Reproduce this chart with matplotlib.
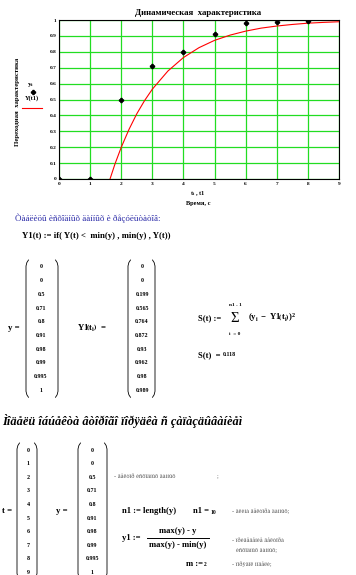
import matplotlib
matplotlib.use("Agg")
import matplotlib.pyplot as plt
from matplotlib.lines import Line2D

plt.rcParams['mathtext.fontset'] = 'custom'
plt.rcParams['mathtext.rm'] = 'Liberation Serif:bold'
plt.rcParams['mathtext.it'] = 'Liberation Serif:bold'
plt.rcParams['mathtext.bf'] = 'Liberation Serif:bold'

# ---------------- data ----------------
t = [0, 1, 2, 3, 4, 5, 6, 7, 8, 9]
y = [0, 0, 0.5, 0.71, 0.8, 0.91, 0.98, 0.99, 0.995, 1]
Y1_ti = [0, 0, 0.199, 0.565, 0.764, 0.872, 0.93, 0.962, 0.98, 0.989]
curve_t = [1.64, 1.8, 2.0, 2.25, 2.5, 2.75, 3.0, 3.5, 4.0, 4.5, 5.0, 5.5,
           6.0, 6.5, 7.0, 7.5, 8.0, 8.5, 9.0]
curve_y = [0.0, 0.095, 0.199, 0.312, 0.41, 0.493, 0.565, 0.679, 0.764, 0.826,
           0.872, 0.905, 0.93, 0.949, 0.962, 0.972, 0.98, 0.985, 0.989]
x_ticks = [0, 1, 2, 3, 4, 5, 6, 7, 8, 9]
y_ticks = [0, 0.1, 0.2, 0.3, 0.4, 0.5, 0.6, 0.7, 0.8, 0.9, 1]
y_tick_labels = ["0", "0.1", "0.2", "0.3", "0.4", "0.5", "0.6", "0.7", "0.8", "0.9", "1"]
y_tab = ["0", "0", "0.5", "0.71", "0.8", "0.91", "0.98", "0.99", "0.995", "1"]
Y1_tab = ["0", "0", "0.199", "0.565", "0.764", "0.872", "0.93", "0.962", "0.98", "0.989"]
t_tab = ["0", "1", "2", "3", "4", "5", "6", "7", "8", "9"]

W, H = 356, 575
fig = plt.figure(figsize=(W / 100, H / 100), dpi=100)
fig.patch.set_facecolor('white')

def P(x, yy):
    return x / W, 1 - yy / H

SERIF = 'Liberation Serif'

def T(x, yy, s, size, weight='bold', ha='left', va='center', color='black', **kw):
    fx, fy = P(x, yy)
    fig.text(fx, fy, s, fontsize=size, fontweight=weight, ha=ha, va=va,
             color=color, family=SERIF, **kw)

# ---------------- chart ----------------
L, R, TOP, BOT = 59, 339, 20, 179
ax = fig.add_axes([L / W, 1 - BOT / H, (R - L) / W, (BOT - TOP) / H])
ax.set_xlim(0, 9)
ax.set_ylim(0, 1)
ax.set_xticks(x_ticks)
ax.set_yticks(y_ticks)
ax.set_xticklabels([str(v) for v in x_ticks])
ax.set_yticklabels(y_tick_labels)
ax.grid(True, color='#22dd22', lw=0.9)
ax.set_axisbelow(True)
ax.tick_params(length=0, labelsize=3.9, pad=2)
for lab in ax.get_xticklabels() + ax.get_yticklabels():
    lab.set_family(SERIF)
    lab.set_fontweight('bold')
for sp in ax.spines.values():
    sp.set_color('black')
    sp.set_linewidth(0.8)
ax.plot(curve_t, curve_y, color='red', lw=0.8, zorder=3)
ax.plot(t[:-1], y[:-1], linestyle='none', marker='P', color='black',
        markersize=2.9, zorder=4)

T(198, 13, "Динамическая  характеристика", 6.3, ha='center')
T(18, 102, "Переходная  характеристика", 4.9, ha='center', rotation=90)
# legend
T(27, 85, r"$y_i$", 5.4)
fig.add_artist(Line2D([P(33, 92)[0]], [P(33, 92)[1]], marker='P', color='black',
                      markersize=2.9, linestyle='none'))
T(25, 98, "Y(t1)", 4.6)
fig.add_artist(Line2D([P(22, 108)[0], P(42, 108)[0]], [P(22, 108)[1], P(42, 108)[1]],
                      color='red', lw=0.8))
T(198, 194, r"$t_i$ , t1", 4.6, ha='center')
T(198, 203, "Время, с", 4.6, ha='center')

# ---------------- worksheet text ----------------
T(15, 218, "Òàáëèöû èñõîäíûõ äàííûõ è ðåçóëüòàòîâ:", 6.5, weight='normal',
  color='#2b2ba8')
T(22, 236, "Y1(t) := if( Y(t) <  min(y) , min(y) , Y(t))", 6.3)

def paren(x, y0, y1, left=True, hook=2.5):
    d = hook if left else -hook
    xs = [x + d, x + d * 0.35, x, x, x + d * 0.35, x + d]
    ys = [y0, y0 + 2.5, y0 + 6, y1 - 6, y1 - 2.5, y1]
    fx = [v / W for v in xs]
    fy = [1 - v / H for v in ys]
    fig.add_artist(Line2D(fx, fy, color='black', lw=0.6))

def matrix(cx, xl, xr, rows, y0, dy, size=4.3):
    for k, s in enumerate(rows):
        T(cx, y0 + k * dy, s, size, ha='center')
    top = y0 - 7
    bot = y0 + (len(rows) - 1) * dy + 7
    paren(xl, top, bot, True)
    paren(xr, top, bot, False)

# upper matrices
T(8, 328, "y =", 6.3)
matrix(41, 26, 58, y_tab, 267, 13.7)
T(77, 328, r"$Y1\!\left(t_i\right)$  =", 6.3)
matrix(142, 128, 155, Y1_tab, 267, 13.7)

# sum
T(198, 318, "S(t) :=", 6.2)
T(235, 318, "Σ", 10.5, weight='normal', ha='center')
T(235, 305, "n1 - 1", 3.8, ha='center')
T(235, 334, "i  = 0", 3.8, ha='center')
T(248, 318, r"$\left(y_i\ -\ Y1\!\left(t_i\right)\right)^2$", 6.2)
T(198, 355, "S(t)  =", 6.2)
T(223, 355, "0.118", 4.2)

# heading
T(2, 421, "Ìîäåëü îáúåêòà âòîðîãî ïîðÿäêà ñ çàïàçäûâàíèåì", 8.9,
  style='italic')

# lower matrices
T(2, 511, "t =", 6.3)
matrix(28, 17, 37, t_tab, 450, 13.6)
T(56, 511, "y =", 6.3)
matrix(92, 78, 107, y_tab, 450, 13.6)

GRAY = '#555555'
T(114, 476, "- âåêòîð èñõîäíûõ äàííûõ", 4.6, weight='normal', color=GRAY)
T(217, 476, ";", 4.6, weight='normal', color=GRAY)
T(122, 511, "n1 := length(y)", 6.2)
T(193, 511, "n1 =", 6.2)
T(211, 512, "10", 4.0)
T(232, 511, "- äëèíà âåêòîðà äàííûõ;", 4.6, weight='normal', color=GRAY)

T(122, 538, "y1 :=", 6.2)
T(178, 531, "max(y) - y", 6.2, ha='center')
T(178, 545, "max(y) - min(y)", 6.2, ha='center')
fig.add_artist(Line2D([P(147, 538)[0], P(209, 538)[0]],
                      [P(147, 538)[1], P(209, 538)[1]], color='black', lw=0.7))
T(232, 540, "- ïðèâåäåíèå âåêòîðà", 4.6, weight='normal', color=GRAY)
T(236, 550, "èñõîäíûõ äàííûõ;", 4.6, weight='normal', color=GRAY)
T(186, 564, "m :=", 6.2)
T(204, 565, "2", 4.0)
T(232, 564, "- ïîðÿäîê ìîäåëè;", 4.6, weight='normal', color=GRAY)

fig.savefig("out.png", dpi=100, facecolor='white')
